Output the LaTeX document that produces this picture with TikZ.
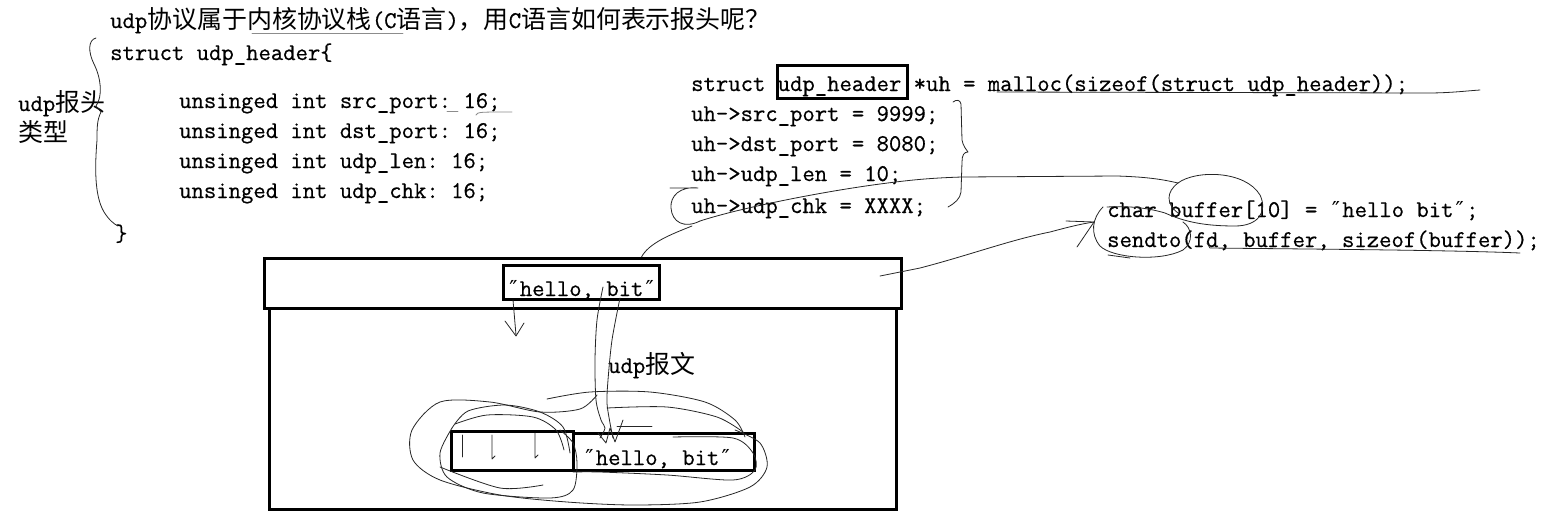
\documentclass[tikz,border=0pt]{standalone}
\usepackage{fontspec}
\setmonofont[FakeBold=0.6]{Latin Modern Mono}
\newfontfamily\cjk[Scale=1.04]{Noto Sans CJK SC}
\newfontfamily\qf{DejaVu Serif}
\newcommand\zh[1]{{\cjk #1}}
\newcommand\qq{\makebox[12.6pt][c]{\qf\fontsize{22}{24}\selectfont ″}}
\begin{document}
\begin{tikzpicture}[x=1pt,y=-1pt,
  txt/.style={anchor=base west,inner sep=0pt,font=\ttfamily\fontsize{24}{28}\selectfont},
  hand/.style={line width=0.8pt,black!85,line cap=round,line join=round},
  faint/.style={line width=0.8pt,black!45,line cap=round},
  box/.style={draw,line width=3.2pt,inner sep=0pt,anchor=north west}]
\useasboundingbox[fill=white] (0,0) rectangle (1556,515);

% ---------- left code ----------
\node[txt] (title) at (110,28) {udp\zh{协议属于内核协议栈}(C\zh{语言})\zh{，用}C\zh{语言如何表示报头呢？}};
\node[txt] (st) at (110,60) {struct udp\_header\{};
\node[txt] (f1) at (179,108) {unsinged int src\_port: 16;};
\node[txt] (f2) at (179,138) {unsinged int dst\_port: 16;};
\node[txt] (f3) at (179,168) {unsinged int udp\_len: 16;};
\node[txt] (f4) at (179,198) {unsinged int udp\_chk: 16;};
\node[txt] (cl) at (115,241) {\}};
\node[txt] (lab1) at (18,111) {udp\zh{报头}};
\node[txt] (lab2) at (18,141) {\zh{类型}};

\draw[faint] (252,33) -- (403,33);
\draw[faint] (447,111) -- (458,111);
\draw[faint] (476,115) .. controls (478,112) .. (512,112);

% left brace
\draw[hand] (96,38) .. controls (88,40) and (88,52) .. (94,64)
  .. controls (101,78) and (103,96) .. (96,106) -- (101,112)
  .. controls (97,120) and (97,128) .. (97,140)
  .. controls (95,165) and (94,195) .. (104,212)
  .. controls (109,220) and (114,224) .. (118,226);

% ---------- right code ----------
\node[txt] (r0) at (691,91) {struct udp\_header *uh = malloc(sizeof(struct udp\_header));};
\node[txt] (r1) at (691,121) {uh->src\_port = 9999;};
\node[txt] (r2) at (691,151) {uh->dst\_port = 8080;};
\node[txt] (r3) at (691,181) {uh->udp\_len = 10;};
\node[txt] (r4) at (691,213) {uh->udp\_chk = XXXX;};
\node[box,minimum width=130pt,minimum height=33pt] (hdr) at (776,64) {};

\draw[hand] (997,92) -- (1427,93) .. controls (1450,93) and (1465,91) .. (1480,90);

% right brace
\draw[hand] (953,102) .. controls (957,99) and (960,100) .. (961,104) -- (962,140)
  .. controls (963,146) and (966,149) .. (968,152)
  .. controls (964,152) and (962,155) .. (962,162) -- (961,192)
  .. controls (960,199) and (955,203) .. (948,207);

\node[txt] (c1) at (1107,217) {char buffer[10] = \qq hello bit\qq;};
\node[txt] (c2) at (1107,247) {sendto(fd, buffer, sizeof(buffer));};

% line from buffer ellipse through brace to uh
\draw[hand] (1107,207) .. controls (1125,206) and (1145,207) .. (1165,213)
  .. controls (1185,222) and (1205,226) .. (1235,226)
  .. controls (1258,226) and (1268,212) .. (1260,195)
  .. controls (1245,170) and (1195,170) .. (1178,183)
  .. controls (1165,180) and (1150,177) .. (1117,176) -- (962,177)
  .. controls (930,178) and (910,180) .. (880,184)
  .. controls (820,192) and (740,208) .. (700,221);
\draw[hand] (1178,183) .. controls (1166,192) and (1166,204) .. (1178,213);
\draw[hand] (670,188) -- (698,188) .. controls (680,186) and (670,196) .. (671,208)
  .. controls (672,222) and (684,229) .. (700,221);
\draw[hand] (692,226) .. controls (672,234) and (648,243) .. (641,258) -- (670,259);

% sendto ellipse and underline
\draw[hand] (1103,207) .. controls (1092,218) and (1090,234) .. (1100,246)
  .. controls (1112,258) and (1160,262) .. (1183,250)
  .. controls (1194,242) and (1192,228) .. (1183,222);
\draw[hand] (1108,255) -- (1130,258);
\draw[hand] (1207,243) -- (1210,248) .. controls (1300,249) and (1450,250) .. (1520,253);

% ---------- boxes ----------
\node[box,minimum width=637pt,minimum height=50pt] (frame) at (263,257) {};
\node[box,minimum width=627pt,minimum height=201pt] (payload) at (268,307) {};
\node[box,minimum width=156pt,minimum height=34pt] (hb) at (502,264) {};
\node[txt] (h1) at (507,296) {\qq hello, bit\qq};
\node[txt] (ubw) at (608,373) {udp\zh{报文}};
\node[box,minimum width=122pt,minimum height=39pt] (lb) at (450,430) {};
\node[box,minimum width=181pt,minimum height=37pt] (rb) at (572,432) {};
\node[txt] (h2) at (583,465) {\qq hello, bit\qq};

% frame -> sendto
\draw[hand] (880,276) -- (920,268) .. controls (970,255) and (1010,240) .. (1050,232)
  .. controls (1065,228) and (1080,224) .. (1094,222);
\draw[hand] (1066,221) -- (1094,222) -- (1077,247);

% small arrow down
\draw[hand] (513,300) -- (516,335);
\draw[hand] (505,321) -- (516,336) -- (524,323);

% loop lines
\draw[hand] plot[smooth] coordinates {(603,287) (597,320) (595,360) (596,400) (601,420) (605,428) (600,438)};
\draw[hand] plot[smooth] coordinates {(620,298) (612,340) (608,380) (607,403) (610,423) (613,438)};
\draw[hand] (598,433) -- (606,443) -- (610,428) -- (615,442) -- (623,420);
\draw[hand] (617,426) -- (652,426);

% scribbles
\draw[hand] plot[smooth] coordinates {(597,395) (580,409) (540,412) (490,402) (440,402) (412,430) (413,460) (440,480) (500,495) (567,502) (633,505) (700,502) (750,487) (767,467) (760,443) (735,430)};
\draw[hand] plot[smooth] coordinates {(547,399) (590,392) (650,392) (705,402) (735,420) (745,437)};
\draw[hand] plot[smooth] coordinates {(452,428) (468,411) (505,405) (540,412) (563,427) (570,453)};
\draw[hand] plot[smooth] coordinates {(455,424) (487,415) (533,417) (556,430) (564,450)};
\draw[hand] plot[smooth] coordinates {(452,428) (440,453) (447,477) (483,493) (550,498) (573,490) (577,463) (573,443) (560,430)};
\draw[hand] plot[smooth] coordinates {(607,408) (667,407) (717,417) (743,432)};
\draw[hand] plot[smooth] coordinates {(673,437) (733,438) (753,453) (755,470) (733,480) (667,475) (600,472) (573,472)};
\draw[hand] plot[smooth] coordinates {(440,467) (500,488) (543,485)};

% ticks in left box
\draw[hand] (462,435) -- (462,457);
\draw[hand] (492,435) -- (492,459) -- (495,456);
\draw[hand] (535,433) -- (535,458) -- (538,455);
\end{tikzpicture}
\end{document}
